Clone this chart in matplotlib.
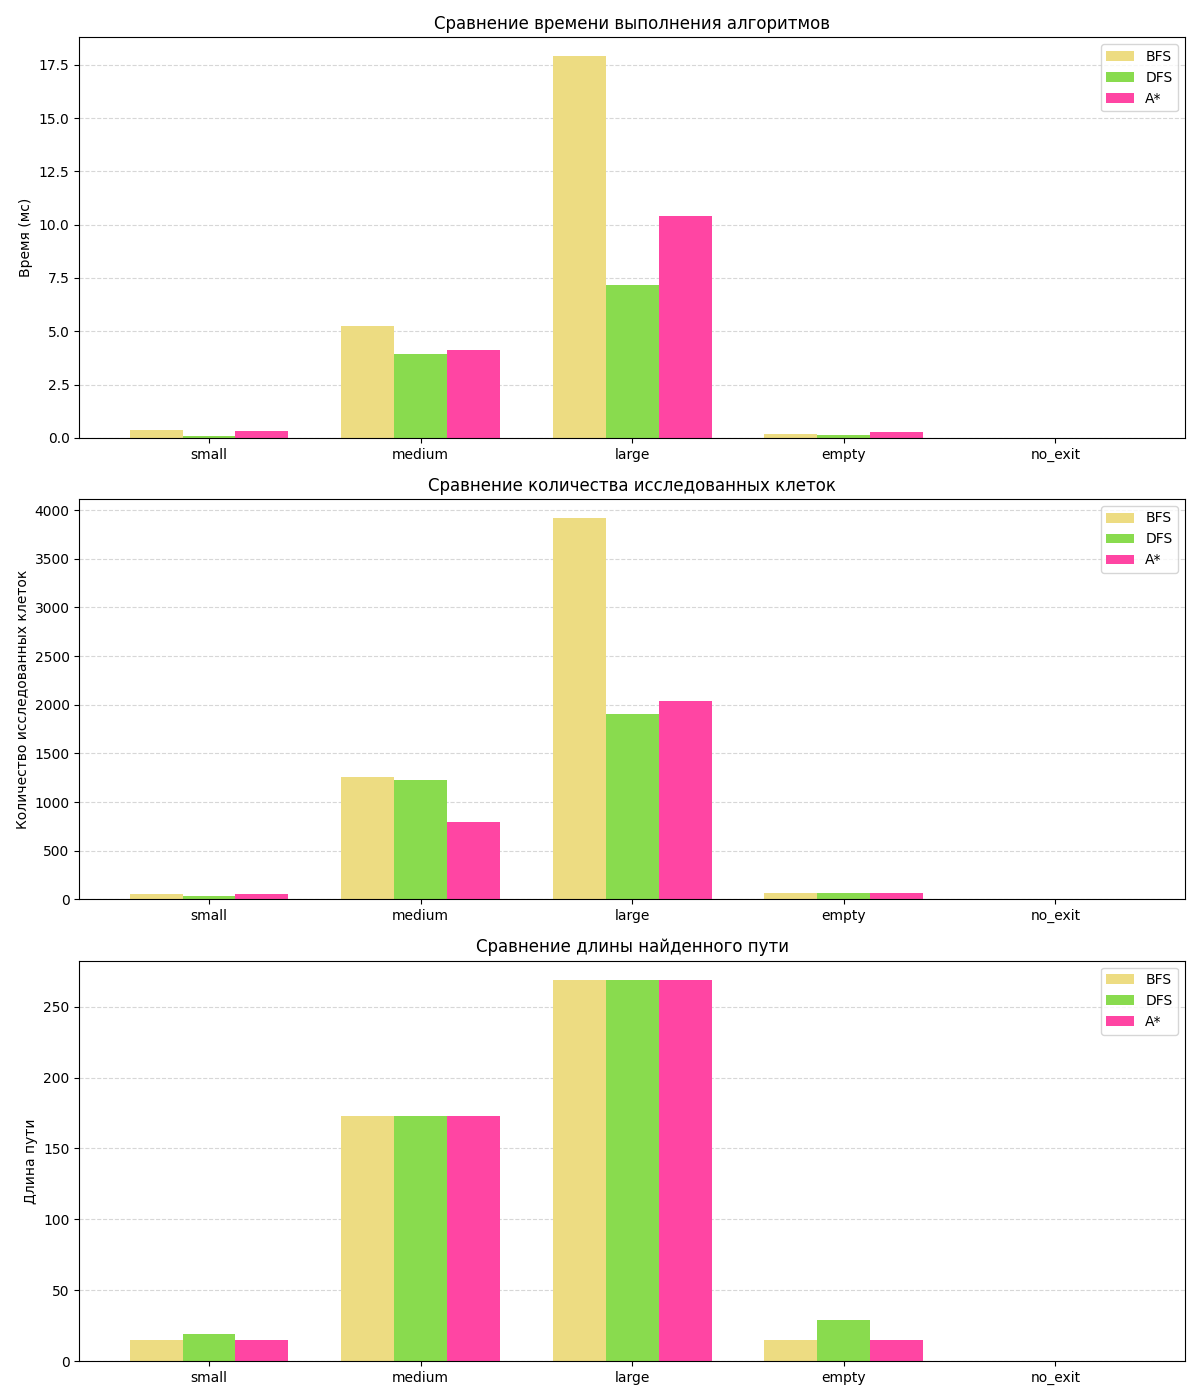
import numpy as np
import matplotlib
matplotlib.use("Agg")
import matplotlib.pyplot as plt

mazes = ["small", "medium", "large", "empty", "no_exit"]
algorithms = ["BFS", "DFS", "A*"]

# time in ms
time_bfs = [0.37, 5.23, 17.9, 0.19, 0.0]
time_dfs = [0.09, 3.92, 7.19, 0.14, 0.0]
time_astar = [0.33, 4.10, 10.4, 0.28, 0.0]

# explored cells
cells_bfs = [52, 1258, 3918, 64, 0]
cells_dfs = [32, 1228, 1903, 64, 0]
cells_astar = [52, 798, 2036, 64, 0]

# path length
path_bfs = [15, 173, 269, 15, 0]
path_dfs = [19, 173, 269, 29, 0]
path_astar = [15, 173, 269, 15, 0]

COLORS = ["#EDDC82", "#89DB4E", "#FF45A3"]

panels = [
    ("Сравнение времени выполнения алгоритмов", "Время (мс)",
     [time_bfs, time_dfs, time_astar]),
    ("Сравнение количества исследованных клеток", "Количество исследованных клеток",
     [cells_bfs, cells_dfs, cells_astar]),
    ("Сравнение длины найденного пути", "Длина пути",
     [path_bfs, path_dfs, path_astar]),
]

fig, axes = plt.subplots(3, 1, figsize=(12, 14), dpi=100)
x = np.arange(len(mazes))
width = 0.25

for ax, (title, ylabel, series) in zip(axes, panels):
    for i, (name, vals) in enumerate(zip(algorithms, series)):
        ax.bar(x + (i - 1) * width, vals, width, label=name, color=COLORS[i])
    ax.set_title(title, fontsize=12)
    ax.set_ylabel(ylabel)
    ax.set_xticks(x)
    ax.set_xticklabels(mazes)
    ax.legend(loc="upper right")
    ax.grid(axis="y", linestyle="--", alpha=0.5)
    ax.set_axisbelow(True)

plt.tight_layout()
plt.savefig("out.png", dpi=100)
plt.close()
